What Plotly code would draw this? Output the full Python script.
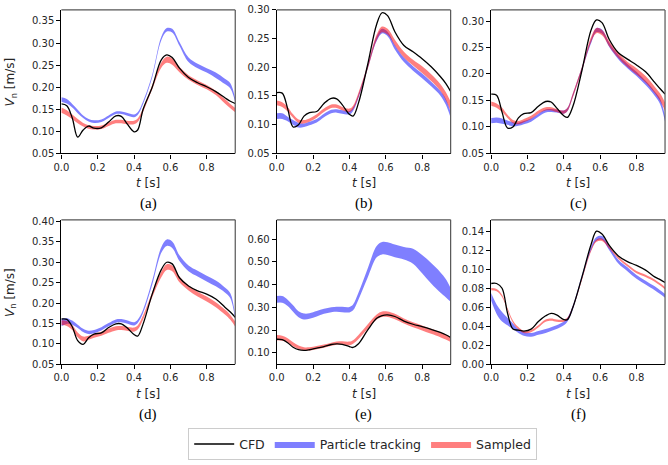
import plotly.graph_objects as go

# ---------------- data ----------------
T = [0.00, 0.03, 0.06, 0.09, 0.12, 0.15, 0.18, 0.22, 0.26, 0.30, 0.33, 0.36, 0.40, 0.42,
     0.45, 0.50, 0.55, 0.58, 0.61, 0.65, 0.70, 0.75, 0.80, 0.85, 0.90, 0.93, 0.957]

# panel (a)
CFD_A = [0.162, 0.158, 0.130, 0.087, 0.103, 0.112, 0.107, 0.108, 0.121, 0.135, 0.134, 0.118, 0.099, 0.103,
         0.150, 0.200, 0.262, 0.273, 0.267, 0.243, 0.222, 0.210, 0.201, 0.190, 0.176, 0.168, 0.163]
PT_A = [0.172, 0.168, 0.158, 0.145, 0.133, 0.125, 0.122, 0.124, 0.133, 0.142, 0.142, 0.139, 0.135, 0.140,
        0.165, 0.225, 0.310, 0.330, 0.328, 0.298, 0.262, 0.248, 0.238, 0.227, 0.213, 0.203, 0.170]
PT_HW_A = [0.005, 0.005, 0.004, 0.004, 0.003, 0.003, 0.003, 0.003, 0.003, 0.003, 0.003, 0.003, 0.003, 0.003,
           0.003, 0.003, 0.004, 0.004, 0.004, 0.004, 0.005, 0.005, 0.005, 0.006, 0.006, 0.006, 0.004]
SAM_A = [0.148, 0.142, 0.133, 0.123, 0.115, 0.110, 0.108, 0.109, 0.116, 0.122, 0.122, 0.120, 0.120, 0.125,
         0.148, 0.200, 0.250, 0.262, 0.258, 0.240, 0.222, 0.210, 0.200, 0.187, 0.168, 0.157, 0.148]
SAM_HW_A = [0.006, 0.006, 0.005, 0.005, 0.004, 0.004, 0.004, 0.004, 0.004, 0.004, 0.004, 0.004, 0.004, 0.004,
            0.004, 0.005, 0.006, 0.007, 0.007, 0.006, 0.005, 0.005, 0.005, 0.005, 0.005, 0.005, 0.005]

# panel (b)
CFD_B = [0.156, 0.155, 0.128, 0.096, 0.100, 0.115, 0.121, 0.123, 0.137, 0.146, 0.145, 0.135, 0.118, 0.115,
         0.138, 0.204, 0.275, 0.295, 0.290, 0.262, 0.238, 0.227, 0.215, 0.201, 0.184, 0.172, 0.158]
PT_B = [0.115, 0.115, 0.110, 0.104, 0.099, 0.099, 0.102, 0.107, 0.116, 0.123, 0.124, 0.122, 0.121, 0.127,
        0.150, 0.200, 0.250, 0.263, 0.258, 0.235, 0.213, 0.198, 0.185, 0.171, 0.155, 0.140, 0.117]
PT_HW_B = [0.005, 0.005, 0.004, 0.004, 0.004, 0.003, 0.003, 0.003, 0.003, 0.003, 0.003, 0.003, 0.003, 0.003,
           0.003, 0.003, 0.004, 0.004, 0.004, 0.004, 0.004, 0.004, 0.004, 0.004, 0.004, 0.005, 0.005]
SAM_B = [0.138, 0.135, 0.127, 0.115, 0.106, 0.105, 0.108, 0.115, 0.125, 0.132, 0.132, 0.128, 0.125, 0.130,
         0.152, 0.200, 0.252, 0.266, 0.262, 0.243, 0.222, 0.208, 0.196, 0.182, 0.165, 0.150, 0.132]
SAM_HW_B = [0.004, 0.004, 0.004, 0.003, 0.003, 0.003, 0.003, 0.003, 0.003, 0.003, 0.003, 0.003, 0.003, 0.003,
            0.004, 0.004, 0.005, 0.005, 0.005, 0.005, 0.005, 0.005, 0.006, 0.006, 0.006, 0.007, 0.008]

# panel (c)
CFD_C = [0.162, 0.160, 0.128, 0.098, 0.100, 0.117, 0.125, 0.127, 0.139, 0.148, 0.147, 0.136, 0.121, 0.118,
         0.139, 0.207, 0.283, 0.302, 0.297, 0.265, 0.240, 0.228, 0.217, 0.204, 0.184, 0.172, 0.162]
PT_C = [0.112, 0.113, 0.111, 0.108, 0.105, 0.105, 0.108, 0.113, 0.122, 0.130, 0.131, 0.130, 0.128, 0.133,
        0.160, 0.210, 0.262, 0.283, 0.280, 0.255, 0.232, 0.215, 0.200, 0.183, 0.163, 0.148, 0.115]
PT_HW_C = [0.005, 0.005, 0.005, 0.004, 0.004, 0.003, 0.003, 0.003, 0.003, 0.003, 0.003, 0.003, 0.003, 0.003,
           0.003, 0.003, 0.004, 0.004, 0.004, 0.004, 0.004, 0.004, 0.004, 0.004, 0.004, 0.005, 0.005]
SAM_C = [0.144, 0.140, 0.132, 0.120, 0.110, 0.108, 0.112, 0.118, 0.128, 0.134, 0.134, 0.131, 0.128, 0.133,
         0.160, 0.210, 0.265, 0.282, 0.278, 0.257, 0.235, 0.218, 0.205, 0.190, 0.170, 0.156, 0.138]
SAM_HW_C = [0.004, 0.004, 0.004, 0.003, 0.003, 0.003, 0.003, 0.003, 0.003, 0.003, 0.003, 0.003, 0.003, 0.003,
            0.004, 0.004, 0.005, 0.005, 0.005, 0.005, 0.005, 0.005, 0.006, 0.006, 0.006, 0.007, 0.008]

# panel (d)
CFD_D = [0.161, 0.160, 0.142, 0.108, 0.099, 0.115, 0.124, 0.127, 0.140, 0.149, 0.149, 0.140, 0.123, 0.119,
         0.149, 0.222, 0.282, 0.300, 0.296, 0.262, 0.242, 0.230, 0.222, 0.210, 0.190, 0.178, 0.165]
PT_D = [0.152, 0.156, 0.152, 0.143, 0.133, 0.128, 0.130, 0.137, 0.147, 0.156, 0.157, 0.154, 0.149, 0.155,
        0.180, 0.250, 0.330, 0.348, 0.343, 0.310, 0.285, 0.272, 0.260, 0.248, 0.232, 0.218, 0.163]
PT_HW_D = [0.009, 0.007, 0.005, 0.004, 0.004, 0.004, 0.004, 0.004, 0.004, 0.004, 0.004, 0.004, 0.004, 0.004,
           0.004, 0.005, 0.007, 0.008, 0.008, 0.007, 0.007, 0.007, 0.007, 0.007, 0.006, 0.006, 0.005]
SAM_D = [0.152, 0.150, 0.140, 0.122, 0.112, 0.115, 0.120, 0.125, 0.132, 0.138, 0.139, 0.137, 0.135, 0.140,
         0.165, 0.220, 0.270, 0.288, 0.285, 0.258, 0.237, 0.222, 0.210, 0.196, 0.178, 0.165, 0.148]
SAM_HW_D = [0.006, 0.006, 0.006, 0.006, 0.006, 0.005, 0.005, 0.005, 0.005, 0.005, 0.005, 0.005, 0.005, 0.005,
            0.005, 0.006, 0.007, 0.007, 0.007, 0.007, 0.006, 0.006, 0.006, 0.006, 0.006, 0.006, 0.006]

# panel (e)
CFD_E = [0.160, 0.158, 0.145, 0.125, 0.114, 0.111, 0.114, 0.121, 0.128, 0.137, 0.140, 0.138, 0.128, 0.124,
         0.140, 0.200, 0.252, 0.264, 0.267, 0.260, 0.240, 0.226, 0.215, 0.203, 0.190, 0.180, 0.168]
PT_E = [0.335, 0.335, 0.320, 0.295, 0.270, 0.260, 0.262, 0.272, 0.283, 0.290, 0.292, 0.291, 0.290, 0.300,
        0.350, 0.450, 0.545, 0.560, 0.558, 0.548, 0.538, 0.525, 0.490, 0.450, 0.410, 0.385, 0.355]
PT_HW_E = [0.015, 0.015, 0.014, 0.014, 0.013, 0.013, 0.012, 0.012, 0.011, 0.011, 0.011, 0.012, 0.012, 0.013,
           0.015, 0.020, 0.025, 0.027, 0.028, 0.028, 0.028, 0.033, 0.040, 0.045, 0.045, 0.040, 0.030]
SAM_E = [0.167, 0.165, 0.155, 0.138, 0.125, 0.118, 0.118, 0.123, 0.130, 0.138, 0.143, 0.144, 0.142, 0.148,
         0.170, 0.215, 0.258, 0.270, 0.270, 0.260, 0.240, 0.224, 0.210, 0.195, 0.180, 0.170, 0.158]
SAM_HW_E = [0.012, 0.011, 0.010, 0.009, 0.008, 0.007, 0.007, 0.007, 0.007, 0.007, 0.007, 0.007, 0.008, 0.008,
            0.009, 0.010, 0.011, 0.012, 0.012, 0.012, 0.011, 0.011, 0.011, 0.011, 0.011, 0.011, 0.010]

# panel (f)
CFD_F = [0.085, 0.085, 0.080, 0.054, 0.037, 0.036, 0.035, 0.037, 0.045, 0.051, 0.0535, 0.052, 0.047, 0.047,
         0.060, 0.092, 0.126, 0.140, 0.137, 0.125, 0.114, 0.108, 0.104, 0.099, 0.092, 0.089, 0.086]
PT_F = [0.071, 0.058, 0.050, 0.045, 0.040, 0.035, 0.032, 0.031, 0.033, 0.035, 0.037, 0.039, 0.043, 0.047,
        0.060, 0.092, 0.122, 0.132, 0.133, 0.122, 0.108, 0.100, 0.092, 0.086, 0.080, 0.076, 0.072]
PT_HW_F = [0.004, 0.005, 0.005, 0.004, 0.003, 0.002, 0.002, 0.002, 0.002, 0.002, 0.002, 0.002, 0.002, 0.002,
           0.002, 0.002, 0.002, 0.002, 0.002, 0.002, 0.002, 0.002, 0.002, 0.002, 0.002, 0.002, 0.002]
SAM_F = [0.079, 0.078, 0.072, 0.058, 0.045, 0.038, 0.034, 0.035, 0.040, 0.046, 0.047, 0.046, 0.046, 0.048,
         0.060, 0.090, 0.120, 0.130, 0.131, 0.123, 0.112, 0.104, 0.097, 0.093, 0.088, 0.084, 0.080]
SAM_HW_F = [0.0012] * len(T)

PANEL_LABELS = ["(a)", "(b)", "(c)", "(d)", "(e)", "(f)"]
X_TICKS = [0.0, 0.2, 0.4, 0.6, 0.8]
Y_TICKS = [
    [0.05, 0.10, 0.15, 0.20, 0.25, 0.30, 0.35],
    [0.05, 0.10, 0.15, 0.20, 0.25, 0.30],
    [0.05, 0.10, 0.15, 0.20, 0.25, 0.30],
    [0.05, 0.10, 0.15, 0.20, 0.25, 0.30, 0.35, 0.40],
    [0.10, 0.20, 0.30, 0.40, 0.50, 0.60],
    [0.00, 0.02, 0.04, 0.06, 0.08, 0.10, 0.12, 0.14],
]
Y_RANGES = [[0.05, 0.375], [0.05, 0.300], [0.05, 0.321], [0.05, 0.404], [0.05, 0.685], [0.0, 0.152]]
X_RANGE = [0.0, 0.957]

PANELS = [
    (CFD_A, PT_A, PT_HW_A, SAM_A, SAM_HW_A),
    (CFD_B, PT_B, PT_HW_B, SAM_B, SAM_HW_B),
    (CFD_C, PT_C, PT_HW_C, SAM_C, SAM_HW_C),
    (CFD_D, PT_D, PT_HW_D, SAM_D, SAM_HW_D),
    (CFD_E, PT_E, PT_HW_E, SAM_E, SAM_HW_E),
    (CFD_F, PT_F, PT_HW_F, SAM_F, SAM_HW_F),
]

# ---------------- layout geometry ----------------
W, H = 668, 465
X_PIX = [(54, 230), (272, 448), (489, 665)]
Y_PIX = [(5, 152), (220, 368)]

BLUE = "rgba(0,0,255,0.5)"
RED = "rgba(255,0,0,0.5)"
TICKFONT = dict(family="DejaVu Sans", size=10, color="#262626")

fig = go.Figure()
layout = dict(width=W, height=H, margin=dict(l=0, r=0, t=0, b=0),
              paper_bgcolor="white", plot_bgcolor="white", showlegend=True)
annotations = []
shapes = []

for i, (cfd, pt, pthw, sam, samhw) in enumerate(PANELS):
    row, col = divmod(i, 3)
    n = i + 1
    xa = "x" if n == 1 else f"x{n}"
    ya = "y" if n == 1 else f"y{n}"
    x0, x1 = X_PIX[col]
    y0, y1 = Y_PIX[row]
    xdom = [x0 / W, x1 / W]
    ydom = [1 - y1 / H, 1 - y0 / H]
    first = i == 0

    for center, hw, color, name, rank in [(pt, pthw, BLUE, "Particle tracking", 2),
                                          (sam, samhw, RED, "Sampled", 3)]:
        lo = [c - h for c, h in zip(center, hw)]
        hi = [c + h for c, h in zip(center, hw)]
        fig.add_trace(go.Scatter(x=T, y=lo, mode="lines", line=dict(width=0, shape="spline", color=color),
                                 showlegend=False, hoverinfo="skip", xaxis=xa, yaxis=ya))
        fig.add_trace(go.Scatter(x=T, y=hi, mode="lines", line=dict(width=0, shape="spline", color=color),
                                 fill="tonexty", fillcolor=color, name=name, legendrank=rank,
                                 showlegend=first, xaxis=xa, yaxis=ya))
    fig.add_trace(go.Scatter(x=T, y=cfd, mode="lines", line=dict(width=1.3, color="black", shape="spline"),
                             name="CFD", legendrank=1, showlegend=first, xaxis=xa, yaxis=ya))

    xkey = "xaxis" if n == 1 else f"xaxis{n}"
    ykey = "yaxis" if n == 1 else f"yaxis{n}"
    layout[xkey] = dict(domain=xdom, range=X_RANGE, anchor=ya, tickvals=X_TICKS,
                        ticktext=[f"{v:.1f}" for v in X_TICKS], ticks="outside", ticklen=4,
                        tickcolor="black", showline=True, linecolor="black", linewidth=1.2,
                        showgrid=False, zeroline=False, tickfont=TICKFONT)
    layout[ykey] = dict(domain=ydom, range=Y_RANGES[i], anchor=xa, tickvals=Y_TICKS[i],
                        ticktext=[f"{v:.2f}" for v in Y_TICKS[i]], ticks="outside", ticklen=4,
                        tickcolor="black", showline=True, linecolor="black", linewidth=1.2,
                        showgrid=False, zeroline=False, tickfont=TICKFONT)
    # top and right spines
    shapes.append(dict(type="line", xref="paper", yref="paper", x0=xdom[0], x1=xdom[1], y0=ydom[1], y1=ydom[1],
                       line=dict(color="#555555", width=1.2)))
    shapes.append(dict(type="line", xref="paper", yref="paper", x0=xdom[1], x1=xdom[1], y0=ydom[0], y1=ydom[1],
                       line=dict(color="#555555", width=1.2)))

    cx = (x0 + x1) / 2 / W
    # x-axis title
    annotations.append(dict(text="<i>t</i> [s]", xref="paper", yref="paper", x=cx, y=1 - (y1 + 30) / H,
                            xanchor="center", yanchor="middle", showarrow=False,
                            font=dict(family="DejaVu Sans", size=12, color="#262626")))
    # panel label
    annotations.append(dict(text=PANEL_LABELS[i], xref="paper", yref="paper", x=cx, y=1 - (y1 + 51) / H,
                            xanchor="center", yanchor="middle", showarrow=False,
                            font=dict(family="Liberation Serif", size=15, color="black")))
    if col == 0:
        annotations.append(dict(text="<i>V</i><sub>n</sub> [m/s]", xref="paper", yref="paper",
                                x=9 / W, y=1 - ((y0 + y1) / 2) / H, textangle=-90, xshift=-6,
                                xanchor="center", yanchor="middle", showarrow=False,
                                font=dict(family="DejaVu Sans", size=12, color="#262626")))

layout["annotations"] = annotations
layout["shapes"] = shapes
layout["legend"] = dict(orientation="h", x=359 / W, y=1 - 450 / H, xanchor="center", yanchor="middle",
                        bordercolor="#cccccc", borderwidth=1, bgcolor="white", traceorder="normal",
                        font=dict(family="DejaVu Sans", size=12.5, color="#262626"),
                        itemwidth=40, tracegroupgap=0)
fig.update_layout(**layout)
fig.write_html("out.html", config={"displayModeBar": False},
               post_script="document.body.style.margin='0';")
